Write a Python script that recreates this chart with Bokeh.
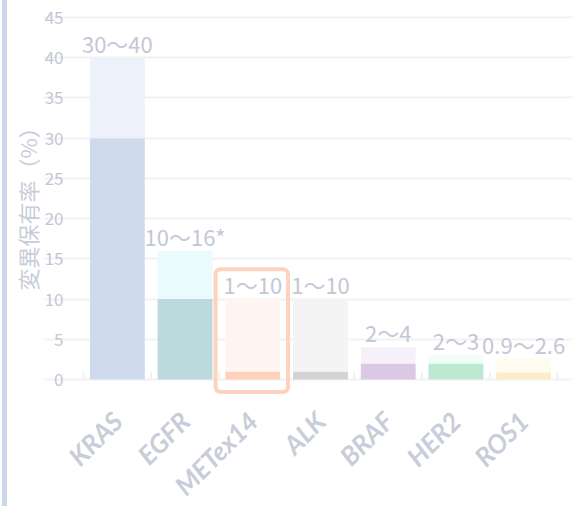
import math
from bokeh.plotting import figure
from bokeh.models import ColumnDataSource, LabelSet, BoxAnnotation, FixedTicker, Div, Range1d, Title
from bokeh.layouts import row
from bokeh.core.properties import value
from bokeh.embed import file_html
from bokeh.resources import INLINE

genes = ["KRAS", "EGFR", "METex14", "ALK", "BRAF", "HER2", "ROS1"]
low = [30, 10, 1, 1, 2, 2, 0.9]
high = [40, 16, 10, 10, 4, 3, 2.6]
labels = ["30〜40", "10〜16*", "1〜10", "1〜10", "2〜4", "2〜3", "0.9〜2.6"]
low_colors = ["#cfdaed", "#bcd9de", "#fdd1bc", "#d3d3d3", "#dac8e4", "#bde9d3", "#fbedcb"]
high_colors = ["#edf1f9", "#eafafd", "#fff4ef", "#f4f4f4", "#f6f0fb", "#f2fdf7", "#fffbf1"]
y_ticks = [0, 5, 10, 15, 20, 25, 30, 35, 40, 45]
highlight = "METex14"
y_title = "変異保有率（%）"

TXT = "#c4c7d4"
xs = list(range(len(genes)))
src = ColumnDataSource(dict(x=xs, low=low, high=high, label=labels,
                            lc=low_colors, hc=high_colors, zero=[0] * len(genes)))

FIG_W, FIG_H = 565, 506
LEFT = 36                   # left border (holds the vertical title)
CAT_LEFT = 76               # px from figure edge to the first category slot
TOP_PX = 17                 # px from figure top to the top tick
Y_MAX = y_ticks[-1]
PPU = 362 / Y_MAX           # pixels per percent
cat_px = 474 / len(genes)
x_start = -0.5 - (CAT_LEFT - LEFT) / cat_px
x_end = x_start + (FIG_W - LEFT) / cat_px
y_end = Y_MAX + TOP_PX / PPU
y_start = y_end - FIG_H / PPU

p = figure(x_range=Range1d(x_start, x_end), y_range=Range1d(y_start, y_end),
           width=FIG_W, height=FIG_H, output_backend="svg", toolbar_location=None,
           min_border_left=LEFT, min_border_right=0, min_border_top=0, min_border_bottom=0)
p.outline_line_color = None
p.background_fill_color = "white"
p.border_fill_color = "white"

p.vbar(x="x", bottom="zero", top="low", width=0.81, fill_color="lc", line_color=None, source=src)
p.vbar(x="x", bottom="low", top="high", width=0.81, fill_color="hc", line_color=None, source=src)

# faint boundary ticks along the base
bx = [i - 0.5 for i in range(len(genes) + 1)]
p.segment(x0=bx, y0=[0] * len(bx), x1=bx, y1=[0.9] * len(bx), line_color="#eeeeee", line_width=1.5)

p.add_layout(LabelSet(x="x", y="high", text="label", source=src, text_align="center",
                      text_baseline="alphabetic", y_offset=5, text_color=TXT,
                      text_font_size="22px", text_font=value("Noto Sans CJK JP")))

ci = genes.index(highlight)
p.add_layout(BoxAnnotation(left=ci - 0.55, right=ci + 0.52, bottom=-1.55, top=13.7,
                           fill_alpha=0, line_color="#fdd3bf", line_width=4, border_radius=5,
                           line_alpha=1))

yt = FixedTicker(ticks=y_ticks)
p.yaxis.ticker = yt
p.ygrid.ticker = yt
p.yaxis.fixed_location = -0.5
p.yaxis.bounds = (0, Y_MAX)
p.yaxis.axis_line_color = None
p.yaxis.major_tick_line_color = None
p.yaxis.minor_tick_line_color = None
p.yaxis.major_tick_out = 0
p.yaxis.major_label_standoff = 20
p.yaxis.major_label_text_color = TXT
p.yaxis.major_label_text_font = "Noto Sans CJK JP"
p.yaxis.major_label_text_font_size = "17px"

p.add_layout(Title(text=y_title, align="left", offset=216, standoff=2,
                   text_color="#c8cdd9", text_font="Noto Sans CJK JP",
                   text_font_size="22px", text_font_style="normal"), "left")

p.xaxis.fixed_location = 0
p.xaxis.ticker = FixedTicker(ticks=xs)
p.xaxis.major_label_overrides = {i: g for i, g in zip(xs, genes)}
p.xaxis.axis_line_color = None
p.xaxis.major_tick_line_color = None
p.xaxis.minor_tick_line_color = None
p.xaxis.major_tick_out = 0
p.xaxis.major_label_orientation = math.pi / 4
p.xaxis.major_label_standoff = 37
p.xaxis.major_label_text_color = "#c9ccd9"
p.xaxis.major_label_text_font = "Lato"
p.xaxis.major_label_text_font_style = "bold italic"
p.xaxis.major_label_text_font_size = "26px"

p.xgrid.grid_line_color = None
p.ygrid.grid_line_color = "#f2f2f2"
p.ygrid.grid_line_width = 2
p.ygrid.bounds = (-0.5, len(genes) - 0.5)

bar = Div(width=5, height=FIG_H, margin=(0, 0, 0, 2), styles={"background-color": "#cdd7ea"})
layout = row(bar, p)

open("out.html", "w").write(file_html(layout, INLINE))
